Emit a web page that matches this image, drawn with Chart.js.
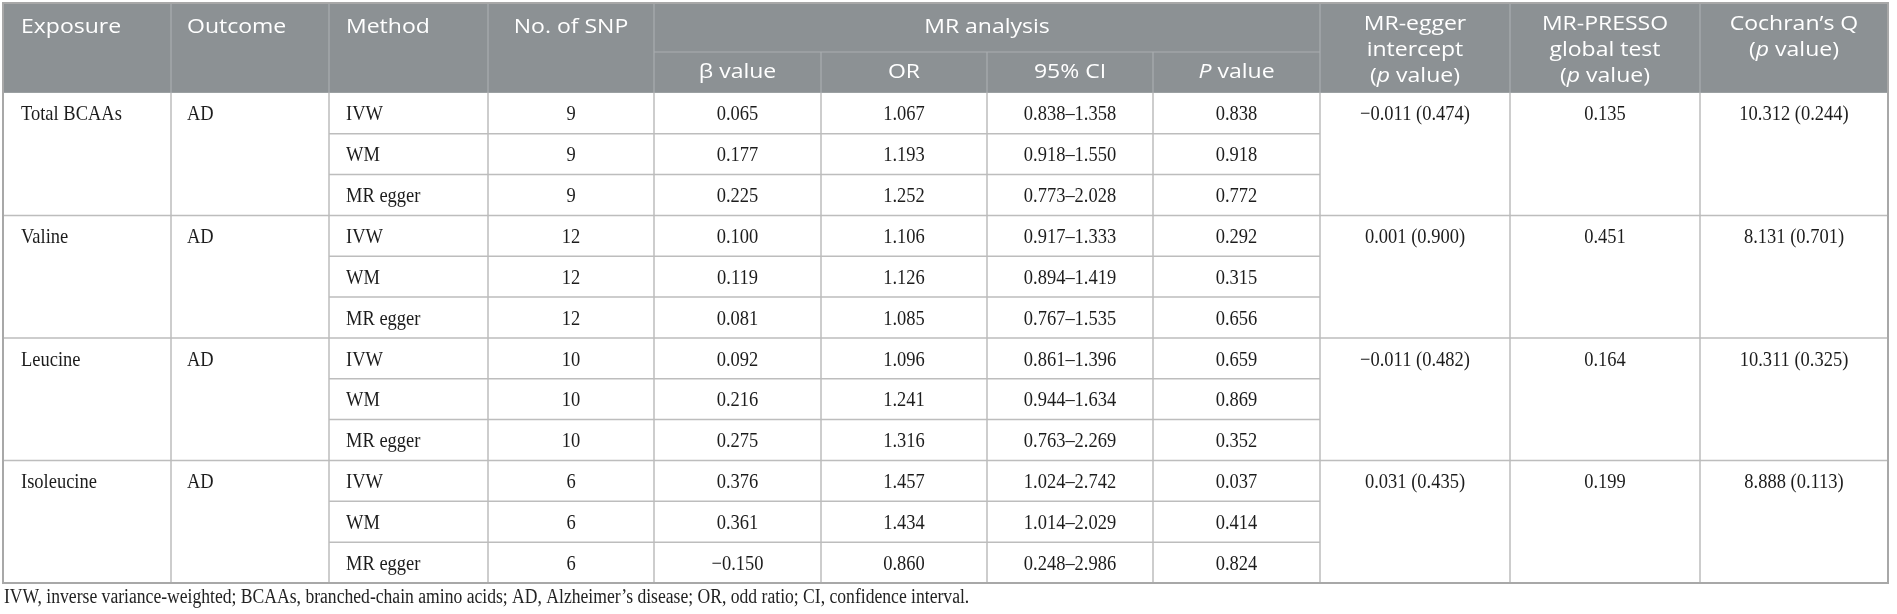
<!DOCTYPE html>
<html>
<head>
<meta charset="utf-8">
<script src="https://cdn.jsdelivr.net/npm/chart.js@4.4.0/dist/chart.umd.min.js"></script>
<style>
  html, body { margin: 0; background: #fff; }
  #wrap { width: 1897px; height: 614px; position: relative; }
</style>
</head>
<body>
<div id="wrap"><canvas id="mrTable"></canvas></div>
<script>
// table data
var exposures = ["Total BCAAs", "Valine", "Leucine", "Isoleucine"];
var outcomes = ["AD", "AD", "AD", "AD"];
var methods = ["IVW", "WM", "MR egger"];
var snpCounts = [9, 12, 10, 6];
var betaValues = [[0.065, 0.177, 0.225], [0.100, 0.119, 0.081], [0.092, 0.216, 0.275], [0.376, 0.361, -0.150]];
var orValues   = [[1.067, 1.193, 1.252], [1.106, 1.126, 1.085], [1.096, 1.241, 1.316], [1.457, 1.434, 0.860]];
var ciLower    = [[0.838, 0.918, 0.773], [0.917, 0.894, 0.767], [0.861, 0.944, 0.763], [1.024, 1.014, 0.248]];
var ciUpper    = [[1.358, 1.550, 2.028], [1.333, 1.419, 1.535], [1.396, 1.634, 2.269], [2.742, 2.029, 2.986]];
var pValues    = [[0.838, 0.918, 0.772], [0.292, 0.315, 0.656], [0.659, 0.869, 0.352], [0.037, 0.414, 0.824]];
var eggerIntercept = [-0.011, 0.001, -0.011, 0.031];
var eggerP = [0.474, 0.900, 0.482, 0.435];
var pressoGlobal = [0.135, 0.451, 0.164, 0.199];
var cochranQ = [10.312, 8.131, 10.311, 8.888];
var cochranP = [0.244, 0.701, 0.325, 0.113];

var footnote = "IVW, inverse variance-weighted; BCAAs, branched-chain amino acids; AD, Alzheimer\u2019s disease; OR, odd ratio; CI, confidence interval.";

// layout (x in table units, y in row units)
var colEdges = [0, 168, 326, 485, 651, 818, 984, 1150, 1317, 1507, 1697, 1885];
var BAND1 = 1.2, HEAD = 2.2;
var headFont = '"Open Sans"', bodyFont = '"Liberation Serif"';
var headSize = 20, headStretch = 1.15;
var bodySize = 21, bodyStretch = 0.88;

function fmt(v) {
  return (v < 0 ? "\u2212" : "") + Math.abs(v).toFixed(3);
}

// draw runs of text (some italic), stretched horizontally
function drawRuns(ctx, runs, x, y, align, family, size, stretch, color) {
  var widths = runs.map(function (r) {
    ctx.font = (r.italic ? "italic " : "") + size + "px " + family;
    return ctx.measureText(r.t).width * stretch;
  });
  var total = widths.reduce(function (a, b) { return a + b; }, 0);
  var sx = align === "center" ? x - total / 2 : x;
  ctx.fillStyle = color;
  ctx.textBaseline = "middle";
  ctx.textAlign = "left";
  runs.forEach(function (r, i) {
    ctx.font = (r.italic ? "italic " : "") + size + "px " + family;
    ctx.save();
    ctx.translate(sx, y);
    ctx.scale(stretch, 1);
    ctx.fillText(r.t, 0, 0);
    ctx.restore();
    sx += widths[i];
  });
}

var tablePlugin = {
  id: "tableCells",
  afterDraw: function (chart) {
    var ctx = chart.ctx, xs = chart.scales.x, ys = chart.scales.y;
    var X = function (v) { return xs.getPixelForValue(v); };
    var Y = function (v) { return ys.getPixelForValue(v); };
    var last = colEdges.length - 1;
    var nRows = exposures.length * methods.length;
    var bottom = HEAD + nRows;

    function line(x1, y1, x2, y2, color, w) {
      ctx.beginPath();
      ctx.strokeStyle = color;
      ctx.lineWidth = w;
      ctx.moveTo(X(x1), Y(y1));
      ctx.lineTo(X(x2), Y(y2));
      ctx.stroke();
    }
    function mid(c) { return (colEdges[c] + colEdges[c + 1]) / 2; }

    ctx.save();
    // header background
    ctx.fillStyle = "#8c9194";
    ctx.fillRect(X(0), Y(0), X(colEdges[last]) - X(0), Y(HEAD) - Y(0));

    // header lines
    var hl = "#a9adb0";
    for (var e = 1; e < last; e++) {
      var top = (e > 4 && e < 8) ? BAND1 : 0;
      line(colEdges[e], top, colEdges[e], HEAD, hl, 1.2);
    }
    line(colEdges[4], BAND1, colEdges[8], BAND1, hl, 1.2);

    // body lines
    var bl = "#bdbdbd";
    for (var r = 1; r < nRows; r++) {
      if (r % methods.length === 0) line(0, HEAD + r, colEdges[last], HEAD + r, bl, 1.5);
      else line(colEdges[2], HEAD + r, colEdges[8], HEAD + r, bl, 1.5);
    }
    for (var e2 = 1; e2 < last; e2++) line(colEdges[e2], HEAD, colEdges[e2], bottom, bl, 1.5);

    // outer border
    ctx.strokeStyle = "#a8a8a8";
    ctx.lineWidth = 2;
    ctx.strokeRect(X(0), Y(0), X(colEdges[last]) - X(0), Y(bottom) - Y(0));

    // header text
    var hy = Y(0.6), W = "#ffffff";
    drawRuns(ctx, [{ t: "Exposure" }], X(colEdges[0] + 18), hy, "left", headFont, headSize, headStretch, W);
    drawRuns(ctx, [{ t: "Outcome" }], X(colEdges[1] + 16), hy, "left", headFont, headSize, headStretch, W);
    drawRuns(ctx, [{ t: "Method" }], X(colEdges[2] + 17), hy, "left", headFont, headSize, headStretch, W);
    drawRuns(ctx, [{ t: "No. of SNP" }], X(mid(3)), hy, "center", headFont, headSize, headStretch, W);
    drawRuns(ctx, [{ t: "MR analysis" }], X((colEdges[4] + colEdges[8]) / 2), hy, "center", headFont, headSize, headStretch, W);
    var sy = Y(1.7);
    drawRuns(ctx, [{ t: "\u03b2 value" }], X(mid(4)), sy, "center", headFont, headSize, headStretch, W);
    drawRuns(ctx, [{ t: "OR" }], X(mid(5)), sy, "center", headFont, headSize, headStretch, W);
    drawRuns(ctx, [{ t: "95% CI" }], X(mid(6)), sy, "center", headFont, headSize, headStretch, W);
    drawRuns(ctx, [{ t: "P", italic: true }, { t: " value" }], X(mid(7)), sy, "center", headFont, headSize, headStretch, W);
    var pv = [{ t: "(" }, { t: "p", italic: true }, { t: " value)" }];
    var ml = [0.52, 1.16, 1.8];
    [[[{ t: "MR-egger" }], [{ t: "intercept" }], pv],
     [[{ t: "MR-PRESSO" }], [{ t: "global test" }], pv],
     [[{ t: "Cochran\u2019s Q" }], pv]].forEach(function (lines, k) {
      lines.forEach(function (runs, j) {
        drawRuns(ctx, runs, X(mid(8 + k)), Y(ml[j]), "center", headFont, headSize, headStretch, W);
      });
    });

    // body text
    var B = "#1c1c1c";
    exposures.forEach(function (exp, g) {
      methods.forEach(function (m, i) {
        var row = g * methods.length + i;
        var cy = Y(HEAD + row + 0.54);
        if (i === 0) {
          drawRuns(ctx, [{ t: exp }], X(colEdges[0] + 18), cy, "left", bodyFont, bodySize, bodyStretch, B);
          drawRuns(ctx, [{ t: outcomes[g] }], X(colEdges[1] + 16), cy, "left", bodyFont, bodySize, bodyStretch, B);
          drawRuns(ctx, [{ t: fmt(eggerIntercept[g]) + " (" + eggerP[g].toFixed(3) + ")" }], X(mid(8)), cy, "center", bodyFont, bodySize, bodyStretch, B);
          drawRuns(ctx, [{ t: fmt(pressoGlobal[g]) }], X(mid(9)), cy, "center", bodyFont, bodySize, bodyStretch, B);
          drawRuns(ctx, [{ t: cochranQ[g].toFixed(3) + " (" + cochranP[g].toFixed(3) + ")" }], X(mid(10)), cy, "center", bodyFont, bodySize, bodyStretch, B);
        }
        drawRuns(ctx, [{ t: m }], X(colEdges[2] + 17), cy, "left", bodyFont, bodySize, bodyStretch, B);
        drawRuns(ctx, [{ t: String(snpCounts[g]) }], X(mid(3)), cy, "center", bodyFont, bodySize, bodyStretch, B);
        drawRuns(ctx, [{ t: fmt(betaValues[g][i]) }], X(mid(4)), cy, "center", bodyFont, bodySize, bodyStretch, B);
        drawRuns(ctx, [{ t: fmt(orValues[g][i]) }], X(mid(5)), cy, "center", bodyFont, bodySize, bodyStretch, B);
        drawRuns(ctx, [{ t: fmt(ciLower[g][i]) + "\u2013" + fmt(ciUpper[g][i]) }], X(mid(6)), cy, "center", bodyFont, bodySize, bodyStretch, B);
        drawRuns(ctx, [{ t: fmt(pValues[g][i]) }], X(mid(7)), cy, "center", bodyFont, bodySize, bodyStretch, B);
      });
    });

    // footnote under the table
    drawRuns(ctx, [{ t: footnote }], X(0) + 1, Y(bottom) + 14.5, "left", bodyFont, 20, bodyStretch, "#222");
    ctx.restore();
  }
};

new Chart("mrTable", {
  type: "scatter",
  data: { datasets: [{ data: [], pointRadius: 0 }] },
  options: {
    responsive: true,
    maintainAspectRatio: false,
    animation: false,
    layout: { padding: { left: 3, top: 3, right: 9, bottom: 31 } },
    scales: {
      x: { type: "linear", min: 0, max: colEdges[colEdges.length - 1], display: false },
      y: { type: "linear", min: 0, max: HEAD + exposures.length * methods.length, reverse: true, display: false }
    },
    plugins: {
      legend: { display: false },
      tooltip: { enabled: false }
    }
  },
  plugins: [tablePlugin]
});
</script>
</body>
</html>
